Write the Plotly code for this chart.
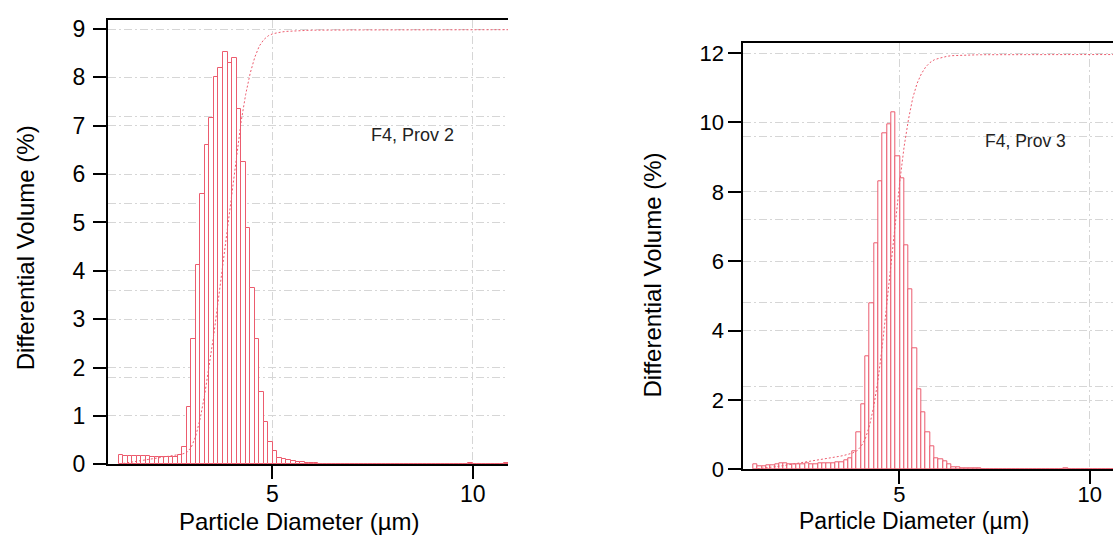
import numpy as np
import plotly.graph_objects as go

# ---------------- data ----------------
BIN_START = 1.165   # left edge of first size bin (µm)
BIN_WIDTH = 0.1132  # bin width (µm)

prov2_diff = [
    0.20, 0.17, 0.17, 0.17, 0.18, 0.18, 0.17, 0.16, 0.15, 0.15, 0.15, 0.15, 0.16,
    0.19, 0.35, 1.18, 2.60, 4.13, 5.58, 6.60, 7.15, 8.01, 8.20, 8.52, 8.29, 8.41,
    7.35, 6.24, 4.88, 3.64, 2.59, 1.50, 0.88, 0.47, 0.27, 0.14,
    0.12, 0.08, 0.06, 0.05, 0.04, 0.03, 0.02, 0.02, 0.01, 0.01, 0.01,
    0, 0, 0, 0, 0, 0, 0, 0, 0, 0, 0, 0, 0, 0, 0, 0, 0, 0, 0, 0, 0, 0, 0, 0, 0, 0, 0, 0, 0, 0,
    0.03,
    0, 0, 0, 0, 0, 0, 0,
    0.03,
]

prov3_diff = [
    0.14, 0.10, 0.10, 0.12, 0.13, 0.15, 0.17, 0.17, 0.16, 0.16, 0.16, 0.16, 0.17,
    0.16, 0.16, 0.18, 0.17, 0.19, 0.19, 0.20, 0.21,
    0.26, 0.31, 0.51, 1.07, 1.88, 3.25, 4.79, 6.52, 8.31, 9.69, 9.95, 10.28, 9.03,
    8.38, 6.45, 5.19, 3.49, 2.30, 1.64, 1.06, 0.67, 0.32, 0.30, 0.22, 0.14, 0.06, 0.05,
    0.03, 0.03, 0.02, 0.02, 0.02, 0.01, 0.01,
    0, 0, 0, 0, 0, 0, 0, 0, 0, 0, 0, 0, 0, 0, 0, 0, 0,
    0.02,
    0, 0, 0, 0, 0, 0, 0, 0, 0, 0, 0,
]

panel_labels = ["F4, Prov 2", "F4, Prov 3"]
x_tick_vals = [5, 10]
prov2_y_ticks = [0, 1, 2, 3, 4, 5, 6, 7, 8, 9]
prov3_y_ticks = [0, 2, 4, 6, 8, 10, 12]
cum_grid_ticks = [0, 20, 40, 60, 80, 100]
x_title = "Particle Diameter (µm)"
y_title = "Differential Volume (%)"

# cumulative volume (%) derived from the differential distribution
prov2_cum = np.cumsum(prov2_diff)
prov3_cum = np.cumsum(prov3_diff)

# ---------------- style ----------------
W, H = 1113, 536
FONT = "Liberation Sans, Arial, Helvetica, sans-serif"
RED = "rgb(236,92,110)"
GRID = "#d6d6d6"
GRID_DASH = "8px,3px,2px,3px"


def px(x):
    return x / W


def py(y):
    return 1 - y / H


fig = go.Figure()

# Panel 1
fig.add_trace(go.Bar(
    x0=BIN_START + BIN_WIDTH / 2, dx=BIN_WIDTH, y=prov2_diff, width=BIN_WIDTH,
    marker=dict(color="white", line=dict(color=RED, width=1)),
    xaxis="x", yaxis="y", showlegend=False,
))
fig.add_trace(go.Scatter(
    x0=BIN_START + BIN_WIDTH, dx=BIN_WIDTH, y=prov2_cum, mode="lines",
    line=dict(color=RED, width=1, dash="2px,2px"),
    xaxis="x", yaxis="y3", showlegend=False,
))
# Panel 2
fig.add_trace(go.Bar(
    x0=BIN_START + BIN_WIDTH / 2, dx=BIN_WIDTH, y=prov3_diff, width=BIN_WIDTH,
    marker=dict(color="white", line=dict(color=RED, width=1)),
    xaxis="x2", yaxis="y2", showlegend=False,
))
fig.add_trace(go.Scatter(
    x0=BIN_START + BIN_WIDTH, dx=BIN_WIDTH, y=prov3_cum, mode="lines",
    line=dict(color=RED, width=1, dash="2px,2px"),
    xaxis="x2", yaxis="y4", showlegend=False,
))

y1_top = 9.186
y2_top = 12.28

common_x = dict(
    tickvals=x_tick_vals, ticks="outside", ticklen=13, tickwidth=2, tickcolor="black",
    showline=True, linewidth=2, linecolor="black", mirror=True,
    showgrid=True, gridcolor=GRID, gridwidth=1, griddash=GRID_DASH,
    zeroline=False, automargin=False,
)
common_y = dict(
    ticks="outside", ticklen=13, tickwidth=2, tickcolor="black",
    showline=True, linewidth=2, linecolor="black",
    showgrid=True, gridcolor=GRID, gridwidth=1, griddash=GRID_DASH,
    zeroline=False, automargin=False,
)
cum_axis = dict(
    tickvals=cum_grid_ticks, showgrid=True, gridcolor=GRID, gridwidth=1, griddash=GRID_DASH,
    showticklabels=False, ticks="", showline=False, zeroline=False, side="right",
    automargin=False,
)

fig.update_layout(
    template="none",
    width=W, height=H,
    margin=dict(l=0, r=0, t=0, b=0, pad=0, autoexpand=False),
    paper_bgcolor="white", plot_bgcolor="white",
    bargap=0, barmode="overlay", showlegend=False,
    font=dict(family=FONT, color="black"),
    xaxis=dict(domain=[px(108), px(508)], range=[0.9, 10.88], anchor="y",
               ticklabelstandoff=-5, tickfont=dict(family=FONT, size=23, color="black"), **common_x),
    yaxis=dict(domain=[py(464.3), py(20)], range=[0, y1_top], anchor="x",
               tickvals=prov2_y_ticks, ticklabelstandoff=3,
               tickfont=dict(family=FONT, size=23, color="black"), **common_y),
    yaxis3=dict(overlaying="y", anchor="x", range=[0, 100 * y1_top / 9], **cum_axis),
    xaxis2=dict(domain=[px(743.3), 1.0], range=[0.902, 10.613], anchor="y2",
                ticklabelstandoff=-9, tickfont=dict(family=FONT, size=22, color="black"), **common_x),
    yaxis2=dict(domain=[py(469.4), py(43.3)], range=[0, y2_top], anchor="x2",
                tickvals=prov3_y_ticks, ticklabelstandoff=0,
                tickfont=dict(family=FONT, size=22, color="black"), **common_y),
    yaxis4=dict(overlaying="y2", anchor="x2", range=[0, 100 * y2_top / 12], **cum_axis),
)

annotations = [
    dict(text=panel_labels[0], x=px(369.3), y=py(135), xanchor="left", yanchor="middle",
         font=dict(family=FONT, size=18, color="#222")),
    dict(text=panel_labels[1], x=px(982.7), y=py(141), xanchor="left", yanchor="middle",
         font=dict(family=FONT, size=17.5, color="#222")),
    dict(text=y_title, x=px(25), y=py(248.3), textangle=-90, xanchor="center", yanchor="middle",
         font=dict(family=FONT, size=24, color="black")),
    dict(text=y_title, x=px(651.5), y=py(275), textangle=-90, xanchor="center", yanchor="middle",
         font=dict(family=FONT, size=24, color="black")),
    dict(text=x_title, x=px(299), y=py(521.5), xanchor="center", yanchor="middle",
         font=dict(family=FONT, size=24, color="black")),
    dict(text=x_title, x=px(914), y=py(521), xanchor="center", yanchor="middle",
         font=dict(family=FONT, size=23, color="black")),
]
for a in annotations:
    a.update(xref="paper", yref="paper", showarrow=False)
fig.update_layout(annotations=annotations)

fig.write_html("out.html")
